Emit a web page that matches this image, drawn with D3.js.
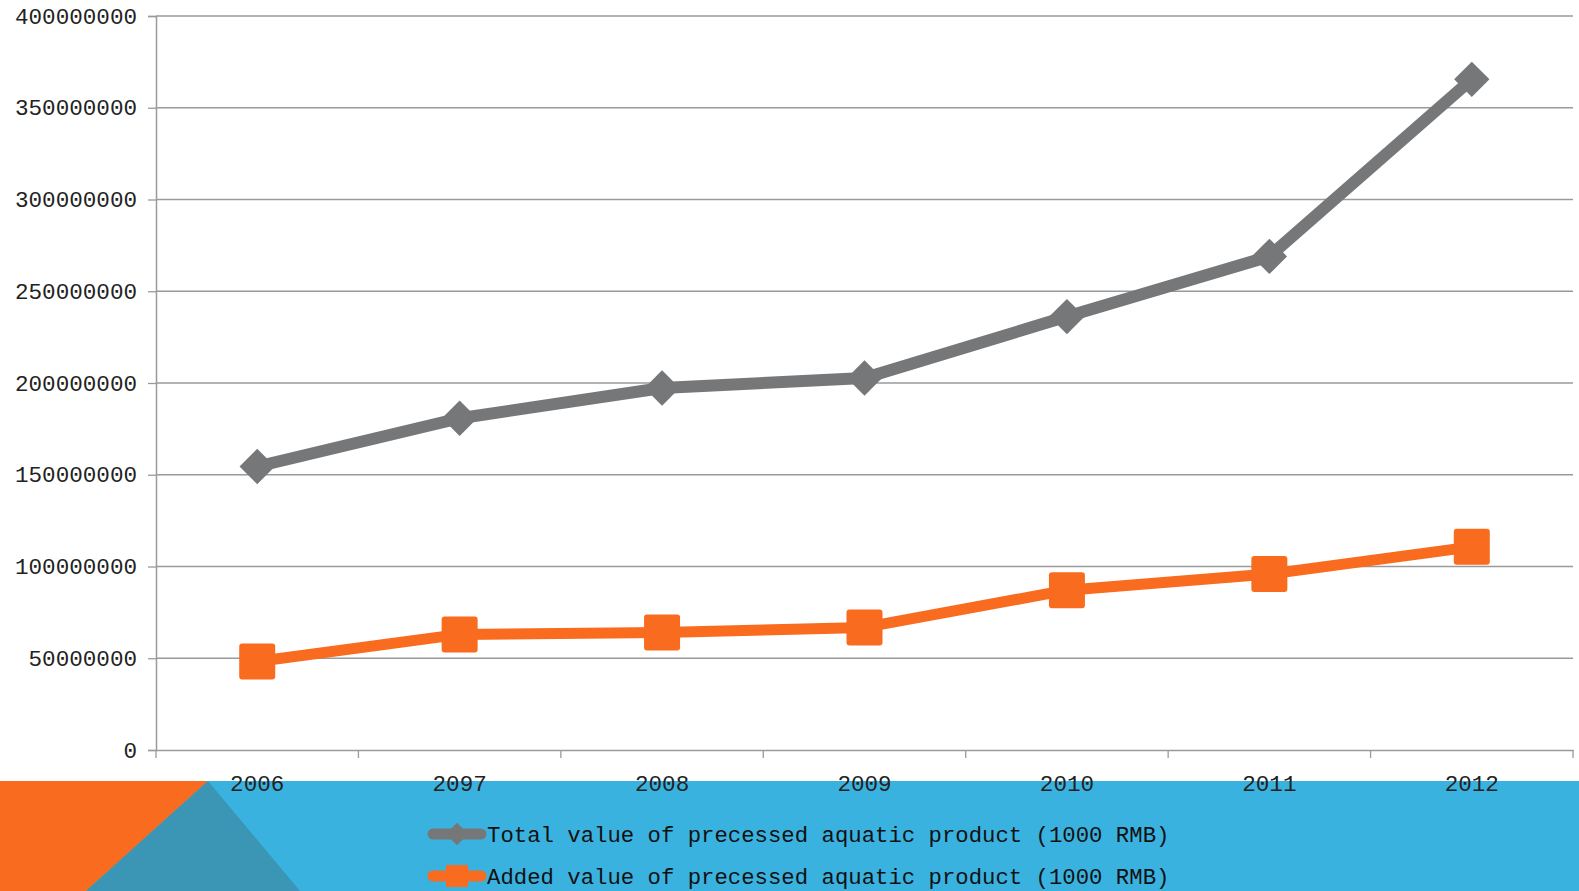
<!DOCTYPE html>
<html>
<head>
<meta charset="utf-8">
<script src="https://cdn.jsdelivr.net/npm/d3@7"></script>
<style>
  body { margin: 0; background: #fff; overflow: hidden; }
  svg { display: block; }
</style>
</head>
<body>
<div id="chart"></div>
<script>
const years = ["2006", "2097", "2008", "2009", "2010", "2011", "2012"];
const totalValue = [154500000, 180800000, 197300000, 202700000, 236200000, 269000000, 365500000];
const addedValue = [48200000, 63000000, 64100000, 66800000, 87100000, 95900000, 110700000];
const yTicks = [0, 50000000, 100000000, 150000000, 200000000, 250000000, 300000000, 350000000, 400000000];
const seriesNames = [
  "Total value of precessed aquatic product (1000 RMB)",
  "Added value of precessed aquatic product (1000 RMB)"
];

const W = 1579, H = 891;
const margin = {top: 16, right: 6, bottom: 141, left: 156};
const width = W - margin.left - margin.right,
  height = H - margin.top - margin.bottom;

const grey = "#767779", orange = "#f96b1e", blue = "#3ab2e0", teal = "#3a96b4";
const font = "'Liberation Mono', 'DejaVu Sans Mono', monospace";

const svg = d3.select("#chart").append("svg")
  .attr("width", W)
  .attr("height", H);

// background decoration at the bottom
svg.append("rect")
  .attr("x", 0).attr("y", 781)
  .attr("width", W).attr("height", H - 781)
  .attr("fill", blue);
svg.append("path")
  .attr("d", "M0,781 L208,781 L86,891 L0,891 Z")
  .attr("fill", orange);
svg.append("path")
  .attr("d", "M208,781 L300,891 L86,891 Z")
  .attr("fill", teal);

const g = svg.append("g")
  .attr("transform", `translate(${margin.left},${margin.top})`);

const x = d3.scaleBand().domain(years).range([0, width]);
const y = d3.scaleLinear().domain([0, 400000000]).range([height, 0]);

// gridlines
g.append("g")
  .selectAll("line")
  .data(yTicks.slice(1))
  .join("line")
  .attr("x1", 0).attr("x2", width)
  .attr("y1", d => y(d)).attr("y2", d => y(d))
  .attr("stroke", "#9a9a9a")
  .attr("stroke-width", 1.3);

// y axis
const yAxis = g.append("g")
  .call(d3.axisLeft(y).tickValues(yTicks).tickSize(8).tickPadding(11).tickFormat(d3.format("d")));
yAxis.select(".domain").attr("stroke", "#9a9a9a").attr("stroke-width", 1.5);
yAxis.selectAll(".tick line").attr("stroke", "#9a9a9a").attr("stroke-width", 1.3);
yAxis.selectAll(".tick text")
  .attr("font-family", font)
  .attr("font-size", "22.6px")
  .attr("fill", "#222");

// x axis
const xAxis = g.append("g")
  .attr("transform", `translate(0,${height})`)
  .call(d3.axisBottom(x).tickSize(0).tickPadding(25));
xAxis.select(".domain").attr("stroke", "#9a9a9a").attr("stroke-width", 1.5);
xAxis.selectAll(".tick text")
  .attr("font-family", font)
  .attr("font-size", "22.6px")
  .attr("fill", "#222");
// category boundary ticks
g.append("g")
  .selectAll("line")
  .data(years.concat(["end"]))
  .join("line")
  .attr("x1", (d, i) => i * x.bandwidth())
  .attr("x2", (d, i) => i * x.bandwidth())
  .attr("y1", height).attr("y2", height + 8)
  .attr("stroke", "#9a9a9a")
  .attr("stroke-width", 1.3);

const cx = d => x(d) + x.bandwidth() / 2;
const line = d3.line().x((d, i) => cx(years[i])).y(d => y(d));

// total series
g.append("path")
  .datum(totalValue)
  .attr("fill", "none")
  .attr("stroke", grey)
  .attr("stroke-width", 12)
  .attr("stroke-linejoin", "round")
  .attr("d", line);
g.selectAll(".diamond")
  .data(totalValue)
  .join("rect")
  .attr("class", "diamond")
  .attr("x", -12.5).attr("y", -12.5)
  .attr("width", 25).attr("height", 25)
  .attr("fill", grey)
  .attr("transform", (d, i) => `translate(${cx(years[i])},${y(d)}) rotate(45)`);

// added series
g.append("path")
  .datum(addedValue)
  .attr("fill", "none")
  .attr("stroke", orange)
  .attr("stroke-width", 11)
  .attr("stroke-linejoin", "round")
  .attr("d", line);
g.selectAll(".square")
  .data(addedValue)
  .join("rect")
  .attr("class", "square")
  .attr("x", (d, i) => cx(years[i]) - 18)
  .attr("y", d => y(d) - 18)
  .attr("width", 36).attr("height", 36)
  .attr("rx", 3)
  .attr("fill", orange);

// legend
const legend = svg.append("g").attr("transform", "translate(428,834)");
const legendRows = legend.selectAll("g")
  .data(seriesNames)
  .join("g")
  .attr("transform", (d, i) => `translate(0,${i * 42})`);
legendRows.append("line")
  .attr("x1", 5).attr("x2", 53)
  .attr("stroke", (d, i) => i === 0 ? grey : orange)
  .attr("stroke-width", 11)
  .attr("stroke-linecap", "round");
legendRows.filter((d, i) => i === 0).append("rect")
  .attr("x", -8).attr("y", -8).attr("width", 16).attr("height", 16)
  .attr("fill", grey)
  .attr("transform", "translate(29,0) rotate(45)");
legendRows.filter((d, i) => i === 1).append("rect")
  .attr("x", 18).attr("y", -11).attr("width", 22).attr("height", 22)
  .attr("fill", orange);
legendRows.append("text")
  .attr("x", 59)
  .attr("dy", "0.35em")
  .attr("font-family", font)
  .attr("font-size", "22.3px")
  .attr("fill", "#111")
  .text(d => d);
</script>
</body>
</html>
